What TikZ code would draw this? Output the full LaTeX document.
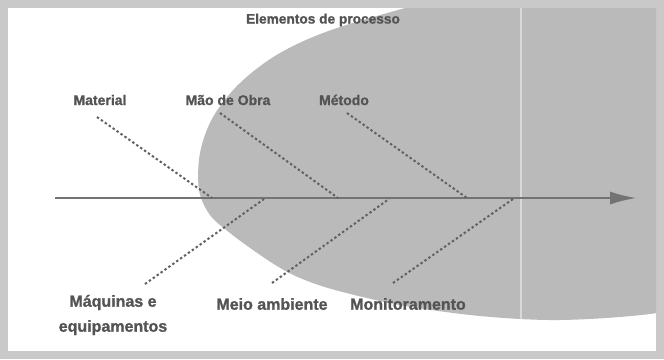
\documentclass[tikz,border=0pt]{standalone}
\usepackage{fontspec}
\setmainfont[BoldFeatures={FakeBold=1.2}]{Liberation Sans}
\usetikzlibrary{arrows.meta}
\definecolor{framecol}{gray}{0.79}
\definecolor{blobcol}{gray}{0.73}
\definecolor{inkcol}{gray}{0.33}
\definecolor{dotcol}{gray}{0.38}
\tikzset{
  toplabel/.style={text=inkcol, font=\bfseries\fontsize{14}{16}\selectfont, inner sep=0pt},
  botlabel/.style={text=inkcol, font=\bfseries\fontsize{16}{25}\selectfont, inner sep=0pt, align=center},
  titlelabel/.style={text=inkcol, font=\bfseries\fontsize{13.7}{16}\selectfont, inner sep=0pt},
  bone/.style={draw=dotcol, line width=2pt, dash pattern=on 2.4pt off 2.4pt},
  spine/.style={draw=black!55, line width=1.5pt, -{Latex[length=26pt,width=13pt]}},
  splitline/.style={draw=white, line width=2.5pt, opacity=0.45}
}
\begin{document}
\begin{tikzpicture}[x=1pt,y=-1pt]
\useasboundingbox (0,0) rectangle (664,359);
\fill[framecol] (0,0) rectangle (664,359);
\fill[white] (8,8) rectangle (656,351);
\def\blobpath{plot[smooth, tension=0.55] coordinates {(445,-3) (337,28) (280,53) (240,83) (213,117) (200,153) (199,190) (210,215) (230,233) (253,250) (277,266) (300,278) (335,290) (400,305) (480,316) (560,320) (650,314) (720,300)} -- (720,-3) -- cycle}
\begin{scope}
  \clip (8,8) rectangle (656,351);
  \fill[blobcol] \blobpath;
  \clip \blobpath;
  \draw[splitline] (521,0) -- (521,359);
\end{scope}
% title
\node[titlelabel] (title) at (323,20) {Elementos de processo};
% labels
\node[toplabel] (mat) at (100,100) {Material};
\node[toplabel] (mao) at (228,100) {Mão de Obra};
\node[toplabel] (met) at (344,100) {Método};
\node[botlabel] (maq) at (113,315) {Máquinas e\\equipamentos};
\node[botlabel] (meio) at (272,304) {Meio ambiente};
\node[botlabel] (mon) at (408,304) {Monitoramento};
% bone ends
\coordinate (matA) at (97,117);
\coordinate (matB) at (212,198);
\coordinate (maoA) at (220,113);
\coordinate (maoB) at (338,198);
\coordinate (metA) at (347,113);
\coordinate (metB) at (467,198);
\coordinate (maqA) at (145,284);
\coordinate (maqB) at (264,199);
\coordinate (meioA) at (272,283);
\coordinate (meioB) at (389,199);
\coordinate (monA) at (393,283);
\coordinate (monB) at (513,199);
\coordinate (tail) at (55,198);
\coordinate (head) at (636,198);
% spine
\draw[spine] (tail) -- (head);
% bones
\draw[bone] (matA) -- (matB);
\draw[bone] (maoA) -- (maoB);
\draw[bone] (metA) -- (metB);
\draw[bone] (maqA) -- (maqB);
\draw[bone] (meioA) -- (meioB);
\draw[bone] (monA) -- (monB);
\end{tikzpicture}
\end{document}
